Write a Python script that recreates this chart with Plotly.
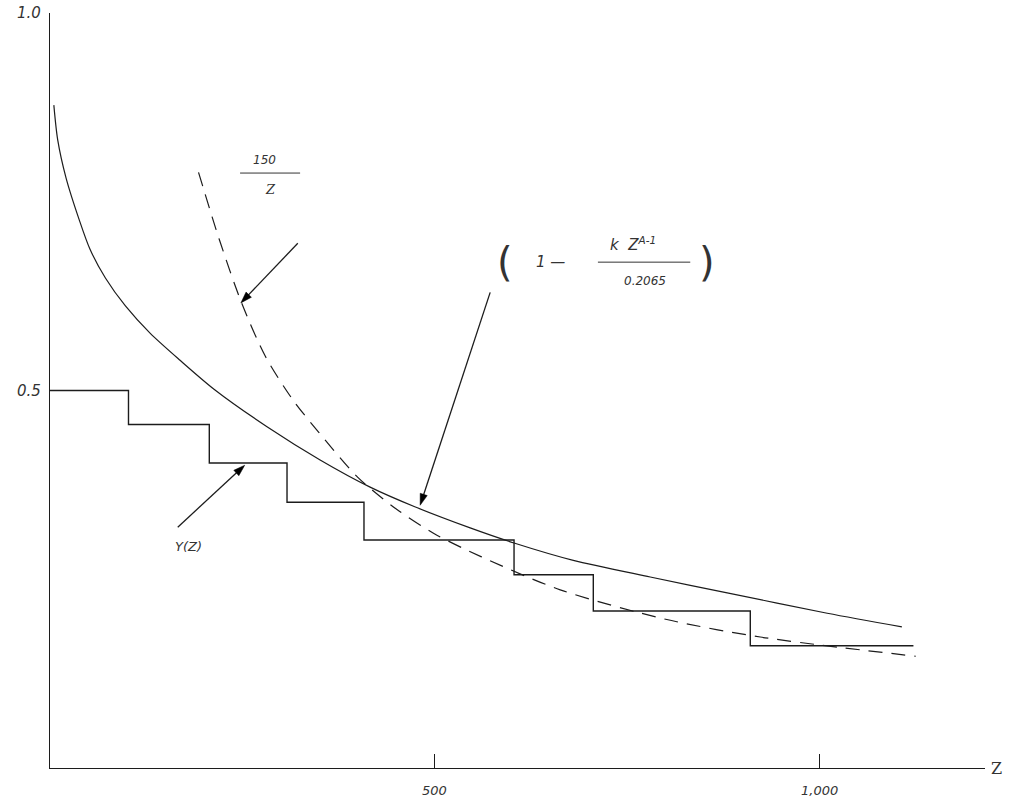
import plotly.graph_objects as go

# Staircase Υ(Z): step edges along Z and the level held on each step
step_z = [0, 102, 207, 308, 408, 603, 706, 910, 1122]
step_y = [0.50, 0.455, 0.404, 0.352, 0.302, 0.256, 0.208, 0.162, 0.162]

# Solid curve (1 - k Z^(A-1) / 0.2065)
solid_z = [5, 10, 21, 38, 52, 72, 98, 130, 169, 214, 282, 351, 416, 474, 546, 603, 680, 780, 880, 1010, 1107]
solid_y = [0.878, 0.832, 0.781, 0.726, 0.687, 0.649, 0.612, 0.576, 0.540, 0.501, 0.452, 0.408,
           0.372, 0.346, 0.318, 0.298, 0.275, 0.253, 0.232, 0.205, 0.187]

# Dashed curve 150/Z
dash_z = [193, 220, 249, 280, 316, 349, 400, 450, 500, 560, 663, 800, 923, 1125]
dash_y = [0.789, 0.700, 0.616, 0.545, 0.487, 0.445, 0.385, 0.343, 0.310, 0.280, 0.236, 0.197, 0.1735, 0.148]

# Pointer arrows: (tail Z, head Z), (tail value, head value)
arrow_150 = ([322, 248], [0.695, 0.616])
arrow_formula = ([572, 481], [0.630, 0.348])
arrow_upsilon = ([166, 253], [0.319, 0.401])

x_ticks = [500, 1000]
x_tick_text = ["500", "1,000"]
y_ticks = [0.5, 1.0]
y_tick_text = ["0.5", "1.0"]

INK = "#1c1c1c"
PENCIL = "#333333"
HAND = dict(family="DejaVu Sans", size=13, color=PENCIL, style="italic")

fig = go.Figure()
fig.add_trace(go.Scatter(x=step_z, y=step_y, mode="lines", hoverinfo="skip",
                         line=dict(color=INK, width=1.4, shape="hv")))
fig.add_trace(go.Scatter(x=solid_z, y=solid_y, mode="lines", hoverinfo="skip",
                         line=dict(color=INK, width=1.2, shape="spline", smoothing=0.8)))
fig.add_trace(go.Scatter(x=dash_z, y=dash_y, mode="lines", hoverinfo="skip",
                         line=dict(color=INK, width=1.2, shape="spline", smoothing=0.8, dash="14px,9px")))

for ax_, ay_ in (arrow_150, arrow_formula, arrow_upsilon):
    fig.add_trace(go.Scatter(
        x=ax_, y=ay_, mode="lines+markers", hoverinfo="skip",
        line=dict(color=INK, width=1.3),
        marker=dict(symbol="arrow", size=[0, 12], angleref="previous", color="#000000",
                    opacity=1, line=dict(width=0.5, color="#000000")),
    ))

XMAX = 1215
fig.update_layout(
    width=1012, height=803,
    margin=dict(l=50, r=27, t=13, b=35),
    paper_bgcolor="white", plot_bgcolor="white",
    showlegend=False,
    xaxis=dict(range=[0, XMAX], showgrid=False, zeroline=False, showline=True, linecolor=INK,
               linewidth=1.3, tickvals=x_ticks, showticklabels=False, ticks="inside", ticklen=14,
               tickcolor=INK, fixedrange=True),
    yaxis=dict(range=[0, 1.0], showgrid=False, zeroline=False, showline=True, linecolor=INK,
               linewidth=1.3, tickvals=y_ticks, showticklabels=False, ticks="inside", ticklen=16,
               tickcolor=INK, fixedrange=True),
)

# Hand-lettered tick labels
for v, t in zip(x_ticks, x_tick_text):
    fig.add_annotation(x=v, y=0, text=t, showarrow=False, font=HAND, yshift=-22)
for v, t in zip(y_ticks, y_tick_text):
    fig.add_annotation(x=0, y=v, text=t, showarrow=False, font=dict(HAND, size=15),
                       xanchor="right", xshift=-7)
fig.add_annotation(x=XMAX, y=0, text="Z", showarrow=False, xanchor="left", xshift=4,
                   font=dict(family="DejaVu Serif", size=16, color=PENCIL))

# 150 / Z label
fig.add_annotation(x=279, y=0.805, text="150", showarrow=False, font=dict(HAND, size=12))
fig.add_shape(type="line", x0=247, x1=325, y0=0.788, y1=0.788, line=dict(color=PENCIL, width=1))
fig.add_annotation(x=287, y=0.766, text="Z", showarrow=False,
                   font=dict(family="DejaVu Serif", size=13, color=PENCIL, style="italic"))

# ( 1 - k Z^(A-1) / 0.2065 ) label
fig.add_annotation(x=591, y=0.670, text="(", showarrow=False,
                   font=dict(family="DejaVu Sans", size=40, color=PENCIL))
fig.add_annotation(x=650, y=0.670, text="1 —", showarrow=False, font=dict(HAND, size=15))
fig.add_annotation(x=757, y=0.694, text="<i>k</i>  Z<sup>A-1</sup>", showarrow=False,
                   font=dict(HAND, size=15))
fig.add_shape(type="line", x0=712, x1=832, y0=0.670, y1=0.670, line=dict(color=PENCIL, width=1))
fig.add_annotation(x=773, y=0.645, text="0.2065", showarrow=False, font=dict(HAND, size=12))
fig.add_annotation(x=854, y=0.670, text=")", showarrow=False,
                   font=dict(family="DejaVu Sans", size=40, color=PENCIL))

# Υ(Z) label
fig.add_annotation(x=180, y=0.293, text="Υ(Z)", showarrow=False, font=dict(HAND, size=13))

fig.write_html("out.html")
